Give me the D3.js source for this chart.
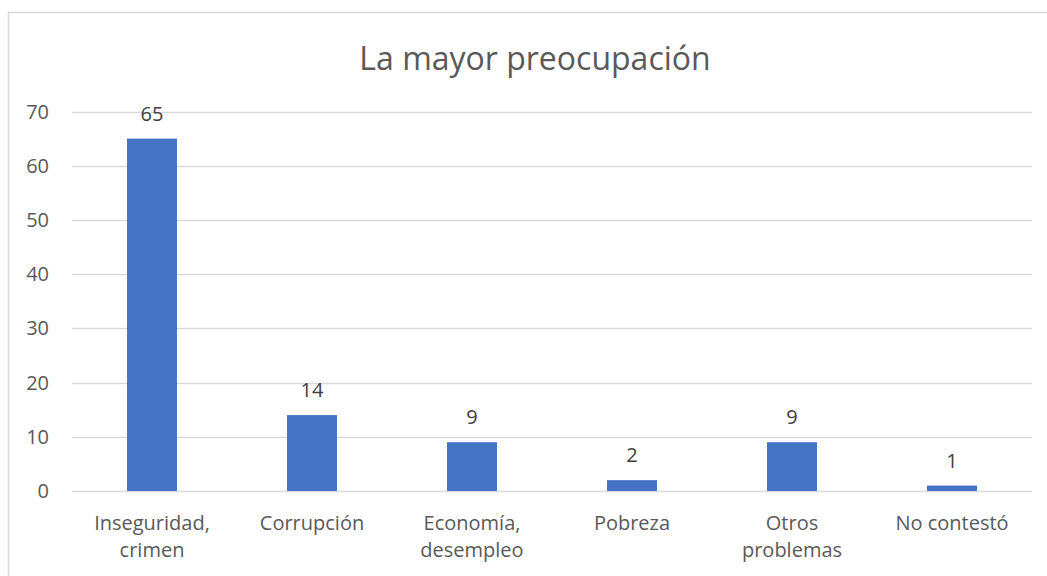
<!DOCTYPE html>
<html>
<head>
<meta charset="utf-8">
<script src="https://cdn.jsdelivr.net/npm/d3@7"></script>
<style>
  body { margin: 0; background: #fff; }
  svg { font-family: "Open Sans", "Noto Sans", sans-serif; }
</style>
</head>
<body>
<div id="chart"></div>
<script>
// data
var categories = [["Inseguridad,", "crimen"], ["Corrupción"], ["Economía,", "desempleo"], ["Pobreza"], ["Otros", "problemas"], ["No contestó"]];
var values = [65, 14, 9, 2, 9, 1];
var yTicks = [0, 10, 20, 30, 40, 50, 60, 70];
var title = "La mayor preocupación";

var width = 1047, height = 576;
var margin = {top: 111.5, right: 15, bottom: 85, left: 72};

var svg = d3.select("#chart").append("svg")
  .attr("width", width)
  .attr("height", height);

//Frame
svg.append("rect")
  .attr("x", 8.5).attr("y", 12.5)
  .attr("width", 1100).attr("height", 700)
  .attr("fill", "none")
  .attr("stroke", "#d9d9d9")
  .attr("stroke-width", 1.5);

//Title
svg.append("text")
  .attr("x", 535).attr("y", 70)
  .attr("text-anchor", "middle")
  .style("font-size", "32px")
  .style("fill", "#595959")
  .text(title);

var idx = d3.range(values.length);

var x = d3.scaleBand()
  .domain(idx)
  .range([margin.left, width - margin.right])
  .paddingInner(0.6875)
  .paddingOuter(0.34375);

var y = d3.scaleLinear()
  .domain([0, 70])
  .range([height - margin.bottom, margin.top]);

//Gridlines
svg.append("g")
  .selectAll("line")
  .data(yTicks)
  .enter()
  .append("line")
  .attr("x1", margin.left).attr("x2", width - margin.right)
  .attr("y1", d => Math.round(y(d)) + 0.5)
  .attr("y2", d => Math.round(y(d)) + 0.5)
  .attr("stroke", "#d9d9d9")
  .attr("stroke-width", 1.5);

//Y labels
svg.append("g")
  .selectAll("text")
  .data(yTicks)
  .enter()
  .append("text")
  .attr("x", 49)
  .attr("y", d => y(d) + 7)
  .attr("text-anchor", "end")
  .style("font-size", "20px")
  .style("fill", "#595959")
  .text(d => d);

//Bars
svg.append("g")
  .selectAll("rect")
  .data(values)
  .enter()
  .append("rect")
  .attr("x", (d, i) => x(i))
  .attr("width", x.bandwidth())
  .attr("y", d => y(d))
  .attr("height", d => y(0) - y(d))
  .attr("fill", "#4472c4");

//Value labels
svg.append("g")
  .selectAll("text")
  .data(values)
  .enter()
  .append("text")
  .attr("x", (d, i) => x(i) + x.bandwidth() / 2)
  .attr("y", d => y(d) - 18)
  .attr("text-anchor", "middle")
  .style("font-size", "20px")
  .style("fill", "#404040")
  .text(d => d);

//Category labels
var cat = svg.append("g")
  .selectAll("text")
  .data(categories)
  .enter()
  .append("text")
  .attr("x", (d, i) => x(i) + x.bandwidth() / 2)
  .attr("y", 530)
  .attr("text-anchor", "middle")
  .style("font-size", "20px")
  .style("fill", "#595959");

cat.selectAll("tspan")
  .data(d => d)
  .enter()
  .append("tspan")
  .attr("x", function() { return d3.select(this.parentNode).attr("x"); })
  .attr("dy", (d, i) => i === 0 ? 0 : 27)
  .text(d => d);
</script>
</body>
</html>
